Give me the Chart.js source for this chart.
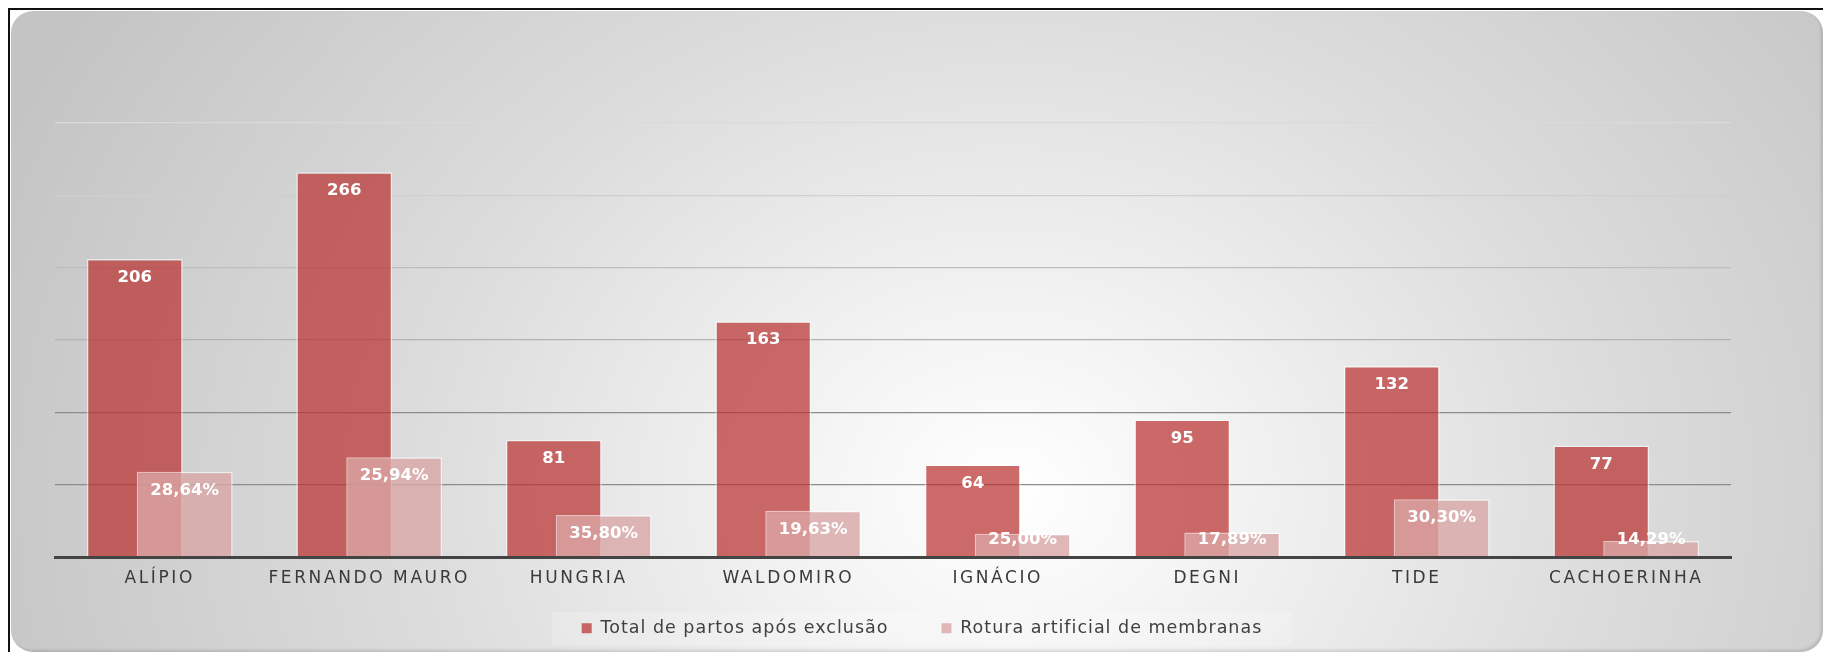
<!DOCTYPE html>
<html>
<head>
<meta charset="utf-8">
<script src="https://cdn.jsdelivr.net/npm/chart.js@4.4.0/dist/chart.umd.min.js"></script>
<style>
    html, body { margin: 0; padding: 0; background: #fff; overflow: hidden; }
    body { width: 1823px; height: 652px; position: relative; }
    #frame {
        position: absolute; left: 8px; top: 8px; width: 1900px; height: 700px;
        border-left: 2.5px solid #111; border-top: 2.5px solid #111;
    }
    #panel {
        position: absolute; left: 11px; top: 11px; width: 1812px; height: 641px;
        border-radius: 22px;
        background: radial-gradient(ellipse 60% 140% at 55% 75%, #ffffff 0%, #f3f3f3 20%, #dcdcdc 55%, #c4c4c4 100%);
        box-shadow: inset -2px -2px 3px rgba(0, 0, 0, 0.12);
    }
    #myChart { position: absolute; left: 0; top: 0; }
</style>
</head>
<body>
<div id="frame"></div>
<div id="panel"></div>
<canvas id="myChart" width="1844" height="652"></canvas>
<script>
// Data
const unidades = ['ALÍPIO', 'FERNANDO MAURO', 'HUNGRIA', 'WALDOMIRO', 'IGNÁCIO', 'DEGNI', 'TIDE', 'CACHOERINHA'];
const totalPartos = [206, 266, 81, 163, 64, 95, 132, 77];
const roturaArtificial = [59, 69, 29, 32, 16, 17, 40, 11];
const roturaPct = ['28,64%', '25,94%', '35,80%', '19,63%', '25,00%', '17,89%', '30,30%', '14,29%'];

const RED = 'rgba(185, 50, 47, 0.72)';
const PINK = 'rgba(218, 166, 166, 0.8)';

Chart.defaults.font.family = '"DejaVu Sans", sans-serif';
Chart.defaults.color = '#404040';

// gridlines fade out towards the top, like the original
function gridTone(value) {
    if (value >= 300) return '#dadada';
    if (value >= 250) return '#cfcfcf';
    if (value >= 200) return '#bebebe';
    if (value >= 150) return '#b3b3b3';
    return '#8c8c8c';
}

const overlapBars = {
    id: 'overlapBars',
    beforeUpdate(chart) {
        chart.ctx.letterSpacing = '1px';
    },
    afterLayout(chart) {
        // let the legend row sit lower than its padding would allow
        const lg = chart.legend;
        lg.top = 566.5;
        lg.bottom = 652;
        lg.height = lg.bottom - lg.top;
    },
    beforeDraw(chart) {
        const ctx = chart.ctx;
        ctx.letterSpacing = '1px';
        // faint light band behind the legend
        const boxes = chart.legend.legendHitBoxes;
        if (boxes && boxes.length) {
            const first = boxes[0];
            const last = boxes[boxes.length - 1];
            const cy = chart.legend.top + 53 + 8.75;
            ctx.save();
            ctx.fillStyle = 'rgba(255, 255, 255, 0.2)';
            ctx.fillRect(first.left - 30, cy - 16, last.left + last.width - first.left + 60, 33);
            ctx.restore();
        }
    },
    // the pink series is drawn last so it lies over the red one
    beforeDatasetDraw(chart, args) {
        if (args.index === 1) return false;
    },
    afterDatasetsDraw(chart) {
        const ctx = chart.ctx;
        chart.getDatasetMeta(1).controller.draw();

        ctx.save();
        ctx.letterSpacing = '0px';
        ctx.font = 'bold 16.5px "DejaVu Sans"';
        ctx.fillStyle = '#ffffff';
        ctx.textAlign = 'center';
        ctx.textBaseline = 'middle';
        chart.getDatasetMeta(0).data.forEach((bar, i) => {
            ctx.fillText(String(totalPartos[i]), bar.x, Math.min(bar.y + 19, bar.base - 17));
        });
        chart.getDatasetMeta(1).data.forEach((bar, i) => {
            ctx.fillText(roturaPct[i], bar.x, Math.min(bar.y + 19, bar.base - 17));
        });
        ctx.restore();
        // the category labels are drawn after this, spaced out
        ctx.letterSpacing = '2.6px';
    }
};

const ctx = document.getElementById('myChart').getContext('2d');
const myChart = new Chart(ctx, {
    type: 'bar',
    data: {
        labels: unidades,
        datasets: [
            {
                label: 'Total de partos após exclusão',
                data: totalPartos,
                backgroundColor: RED,
                borderColor: 'rgba(255, 255, 255, 0.55)',
                borderWidth: 1.5
            },
            {
                label: 'Rotura artificial de membranas',
                data: roturaArtificial,
                backgroundColor: PINK,
                borderColor: 'rgba(255, 255, 255, 0.6)',
                borderWidth: 1.5
            }
        ]
    },
    options: {
        responsive: false,
        animation: false,
        devicePixelRatio: 1,
        // two bars per category, each wider than its slot so they overlap
        datasets: {
            bar: { categoryPercentage: 0.477, barPercentage: 1.92 }
        },
        layout: {
            padding: { top: 123, bottom: 15, left: 0, right: 0 }
        },
        scales: {
            x: {
                type: 'category',
                offset: true,
                grid: { display: false, drawTicks: false },
                border: { display: true, color: '#444444', width: 3, z: 1 },
                ticks: {
                    z: 1,
                    padding: 11.5,
                    autoSkip: false,
                    maxRotation: 0,
                    color: '#3a3a3a',
                    font: { size: 17 }
                },
                afterFit: (scale) => { scale.height = 40; }
            },
            y: {
                min: 0,
                max: 300,
                ticks: { stepSize: 50, display: false },
                grid: {
                    drawTicks: false,
                    lineWidth: 1.3,
                    color: (c) => gridTone(c.tick ? c.tick.value : 0)
                },
                border: { display: false },
                afterFit: (scale) => { scale.width = 55; }
            },
            y2: {
                type: 'linear',
                position: 'right',
                grid: { display: false, drawTicks: false },
                ticks: { display: false },
                border: { display: false },
                afterFit: (scale) => { scale.width = 113; }
            }
        },
        plugins: {
            tooltip: { enabled: false },
            legend: {
                position: 'bottom',
                maxHeight: 40,
                labels: {
                    boxWidth: 10,
                    boxHeight: 10,
                    padding: 53,
                    color: '#404040',
                    font: { size: 17.5 },
                    generateLabels: (chart) => Chart.defaults.plugins.legend.labels.generateLabels(chart)
                        .map(item => Object.assign(item, { lineWidth: 0 }))
                }
            }
        }
    },
    plugins: [overlapBars]
});
</script>
</body>
</html>
